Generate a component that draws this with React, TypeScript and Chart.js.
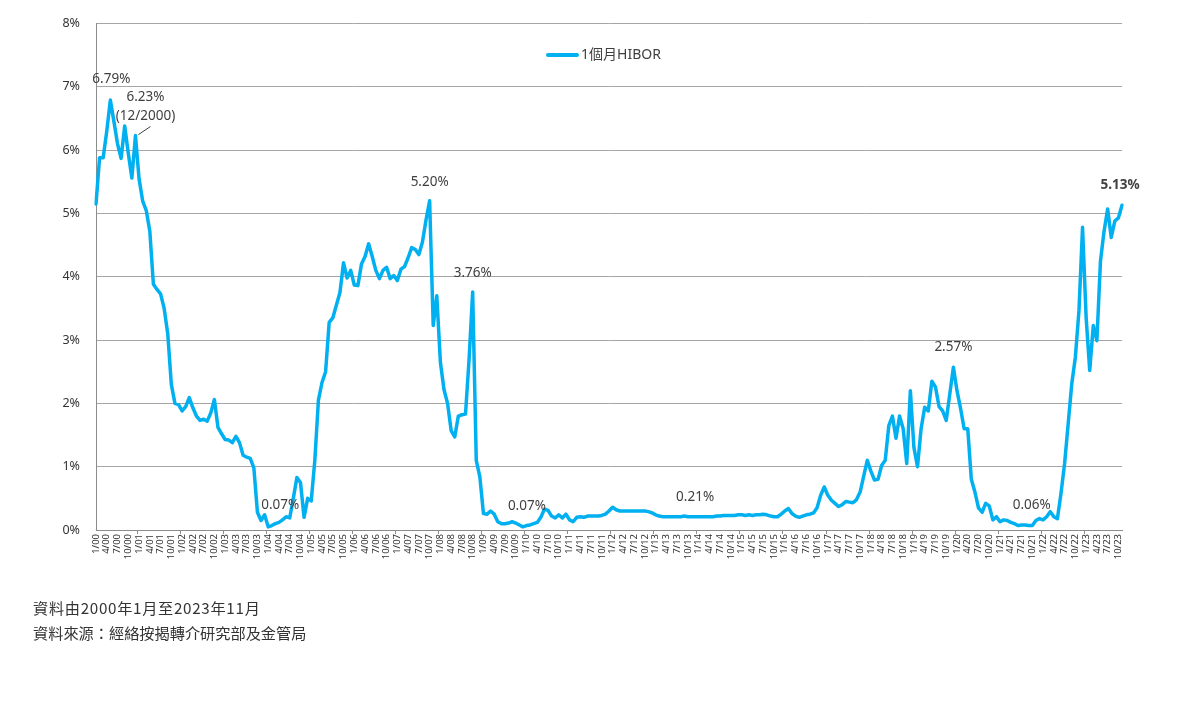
import React, { useEffect, useRef } from "react";
import { Chart, registerables } from "chart.js";

Chart.register(...registerables);

// 1-month HIBOR (%), monthly, Jan 2000 - Nov 2023
const hibor2000 = [5.15, 5.88, 5.88, 6.3, 6.79, 6.45, 6.1, 5.87, 6.38, 5.95, 5.56, 6.23];
const hibor2001 = [5.55, 5.2, 5.05, 4.72, 3.88, 3.8, 3.73, 3.5, 3.1, 2.3, 2.0, 1.98];
const hibor2002 = [1.88, 1.95, 2.09, 1.93, 1.8, 1.73, 1.75, 1.72, 1.85, 2.06, 1.62, 1.52];
const hibor2003 = [1.43, 1.42, 1.38, 1.48, 1.38, 1.18, 1.15, 1.13, 0.98, 0.28, 0.15, 0.24];
const hibor2004 = [0.05, 0.07, 0.1, 0.12, 0.16, 0.21, 0.19, 0.5, 0.83, 0.75, 0.2, 0.5];
const hibor2005 = [0.46, 1.1, 2.05, 2.33, 2.5, 3.28, 3.35, 3.55, 3.75, 4.22, 3.98, 4.1];
const hibor2006 = [3.87, 3.86, 4.2, 4.32, 4.52, 4.32, 4.1, 3.97, 4.1, 4.15, 3.97, 4.02];
const hibor2007 = [3.94, 4.12, 4.16, 4.3, 4.46, 4.43, 4.35, 4.55, 4.9, 5.2, 3.23, 3.7];
const hibor2008 = [2.65, 2.22, 2.0, 1.57, 1.47, 1.8, 1.82, 1.83, 2.7, 3.76, 1.1, 0.84];
const hibor2009 = [0.26, 0.25, 0.3, 0.25, 0.13, 0.1, 0.1, 0.11, 0.13, 0.11, 0.08, 0.05];
const hibor2010 = [0.07, 0.08, 0.1, 0.12, 0.2, 0.33, 0.31, 0.22, 0.19, 0.24, 0.19, 0.25];
const hibor2011 = [0.16, 0.13, 0.2, 0.21, 0.2, 0.22, 0.22, 0.22, 0.22, 0.23, 0.25, 0.3];
const hibor2012 = [0.36, 0.32, 0.3, 0.3, 0.3, 0.3, 0.3, 0.3, 0.3, 0.3, 0.29, 0.27];
const hibor2013 = [0.24, 0.22, 0.21, 0.21, 0.21, 0.21, 0.21, 0.21, 0.22, 0.21, 0.21, 0.21];
const hibor2014 = [0.21, 0.21, 0.21, 0.21, 0.21, 0.22, 0.22, 0.23, 0.23, 0.23, 0.23, 0.24];
const hibor2015 = [0.24, 0.23, 0.24, 0.23, 0.24, 0.24, 0.25, 0.24, 0.22, 0.21, 0.21, 0.25];
const hibor2016 = [0.3, 0.34, 0.26, 0.22, 0.2, 0.22, 0.24, 0.25, 0.27, 0.35, 0.55, 0.68];
const hibor2017 = [0.55, 0.47, 0.42, 0.37, 0.4, 0.45, 0.44, 0.43, 0.48, 0.6, 0.85, 1.1];
const hibor2018 = [0.93, 0.79, 0.8, 1.02, 1.1, 1.65, 1.8, 1.45, 1.8, 1.6, 1.05, 2.2];
const hibor2019 = [1.3, 1.0, 1.6, 1.94, 1.88, 2.35, 2.26, 1.95, 1.88, 1.73, 2.15, 2.57];
const hibor2020 = [2.2, 1.92, 1.6, 1.6, 0.8, 0.6, 0.35, 0.28, 0.42, 0.38, 0.16, 0.21];
const hibor2021 = [0.13, 0.16, 0.15, 0.12, 0.1, 0.07, 0.08, 0.08, 0.07, 0.07, 0.15, 0.18];
const hibor2022 = [0.16, 0.21, 0.29, 0.21, 0.18, 0.58, 1.05, 1.68, 2.31, 2.73, 3.46, 4.78];
const hibor2023 = [3.36, 2.52, 3.23, 2.99, 4.25, 4.72, 5.07, 4.62, 4.88, 4.93, 5.13];

const hiborValues = [
  ...hibor2000, ...hibor2001, ...hibor2002, ...hibor2003, ...hibor2004, ...hibor2005,
  ...hibor2006, ...hibor2007, ...hibor2008, ...hibor2009, ...hibor2010, ...hibor2011,
  ...hibor2012, ...hibor2013, ...hibor2014, ...hibor2015, ...hibor2016, ...hibor2017,
  ...hibor2018, ...hibor2019, ...hibor2020, ...hibor2021, ...hibor2022, ...hibor2023,
];

// month labels "m/yy"
const monthLabels: string[] = [];
for (let y = 2000; y <= 2023; y++) {
  for (let m = 1; m <= 12; m++) {
    if (monthLabels.length >= hiborValues.length) break;
    monthLabels.push(`${m}/${String(y % 100).padStart(2, "0")}`);
  }
}

const yTicks = [0, 1, 2, 3, 4, 5, 6, 7, 8];
const seriesName = "1個月HIBOR";

// annotated points: data index and text
const annotationIndex = [4, 11, 48, 93, 105, 119, 167, 239, 260, 286];
const annotationText = [
  ["6.79%"], ["6.23%", "(12/2000)"], ["0.07%"], ["5.20%"], ["3.76%"],
  ["0.07%"], ["0.21%"], ["2.57%"], ["0.06%"], ["5.13%"],
];
const annotationStyle = [
  { dx: 1, dy: -21 }, { dx: 10, dy: -19, leader: true }, { dx: 12, dy: -22 },
  { dx: 0, dy: -19 }, { dx: 0, dy: -19 }, { dx: 4, dy: -21 }, { dx: 0, dy: -20 },
  { dx: 0, dy: -20 }, { dx: 3, dy: -20 }, { dx: -2, dy: -20, bold: true },
];

const LINE_COLOR = "#00B0F0";
const FONT = "'Noto Sans', 'Noto Sans CJK TC', sans-serif";

const annotationPlugin = {
  id: "pointNotes",
  afterDatasetsDraw(chart: any) {
    const { ctx, scales } = chart;
    ctx.save();
    ctx.textAlign = "center";
    ctx.textBaseline = "middle";
    annotationIndex.forEach((idx, k) => {
      const st: any = annotationStyle[k];
      const px = scales.x.getPixelForValue(idx);
      const py = scales.y.getPixelForValue(hiborValues[idx]);
      const lines = annotationText[k];
      ctx.font = `${st.bold ? "bold " : ""}13.5px ${FONT}`;
      ctx.fillStyle = "#404040";
      lines.forEach((t, li) => {
        const ly = py + st.dy - (lines.length - 1 - li) * 19;
        ctx.fillText(t, px + st.dx, ly);
      });
      if (st.leader) {
        ctx.strokeStyle = "#404040";
        ctx.lineWidth = 1;
        ctx.beginPath();
        ctx.moveTo(px + 3, py - 1);
        ctx.lineTo(px + 15, py - 9);
        ctx.stroke();
      }
    });
    ctx.restore();
  },
};

const legendPlugin = {
  id: "innerLegend",
  afterDraw(chart: any) {
    const { ctx } = chart;
    ctx.save();
    ctx.font = `14px ${FONT}`;
    const x0 = 548;
    const y0 = 55;
    ctx.strokeStyle = LINE_COLOR;
    ctx.lineWidth = 4;
    ctx.lineCap = "round";
    ctx.beginPath();
    ctx.moveTo(x0, y0);
    ctx.lineTo(x0 + 29, y0);
    ctx.stroke();
    ctx.fillStyle = "#404040";
    ctx.textAlign = "left";
    ctx.textBaseline = "middle";
    ctx.fillText(seriesName, x0 + 33, y0);
    ctx.restore();
  },
};

export default function App() {
  const ref = useRef<HTMLCanvasElement | null>(null);

  useEffect(() => {
    if (!ref.current) return;
    const chart = new Chart(ref.current, {
      type: "line",
      data: {
        labels: monthLabels,
        datasets: [
          {
            label: seriesName,
            data: hiborValues,
            borderColor: LINE_COLOR,
            backgroundColor: LINE_COLOR,
            borderWidth: 3.5,
            pointRadius: 0,
            tension: 0,
            fill: false,
            borderJoinStyle: "round",
            borderCapStyle: "round",
          },
        ],
      },
      options: {
        responsive: false,
        animation: false,
        layout: { padding: { top: 22, right: 78, left: 0, bottom: 0 } },
        plugins: { legend: { display: false }, tooltip: { enabled: false }, title: { display: false } },
        scales: {
          x: {
            type: "category",
            offset: false,
            grid: {
              display: true,
              drawOnChartArea: false,
              offset: true,
              tickLength: 4,
              color: (c: any) => (c.index % 12 === 0 ? "#8c8c8c" : "rgba(0,0,0,0)"),
            },
            border: { display: true, color: "#8c8c8c", width: 1 },
            ticks: {
              autoSkip: false,
              maxRotation: 90,
              minRotation: 90,
              padding: 0,
              color: "#333333",
              font: { family: FONT, size: 9.5 },
              callback: (_v: any, i: number) => (i % 3 === 0 ? monthLabels[i] : ""),
            },
            afterFit: (s: any) => {
              s.height = 194;
            },
          },
          y: {
            min: 0,
            max: 8,
            afterBuildTicks: (s: any) => {
              s.ticks = yTicks.map((v) => ({ value: v }));
            },
            grid: { color: "#a6a6a6", lineWidth: 1, drawTicks: false },
            border: { display: true, color: "#8c8c8c", width: 1 },
            ticks: {
              padding: 16,
              color: "#333333",
              font: { family: FONT, size: 12.5 },
              callback: (v: any) => `${v}%`,
            },
            afterFit: (s: any) => {
              s.width = 96;
            },
          },
        },
      },
      plugins: [annotationPlugin, legendPlugin],
    } as any);
    return () => chart.destroy();
  }, []);

  const noteStyle: React.CSSProperties = {
    position: "absolute",
    left: 33,
    fontFamily: "'Noto Sans CJK TC', 'Noto Sans', sans-serif",
    fontSize: 15.2,
    color: "#333333",
    whiteSpace: "nowrap",
    lineHeight: "18px",
  };

  return (
    <div style={{ position: "fixed", left: 0, top: 0, width: 1200, height: 724, background: "#ffffff" }}>
      <canvas ref={ref} width={1200} height={724} style={{ position: "absolute", left: 0, top: 0 }} />
      <div style={{ ...noteStyle, top: 598, letterSpacing: "0.7px" }}>資料由2000年1月至2023年11月</div>
      <div style={{ ...noteStyle, top: 623 }}>資料來源：經絡按揭轉介研究部及金管局</div>
    </div>
  );
}
